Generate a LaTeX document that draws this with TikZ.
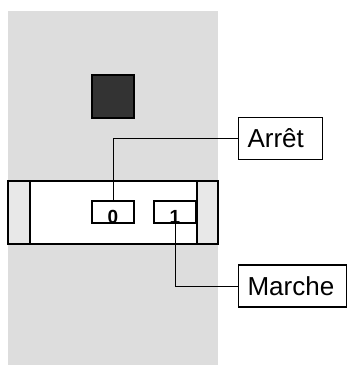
\documentclass[tikz,border=0pt]{standalone}
\usepackage{fontspec}
\setmainfont{Liberation Sans}
\definecolor{panel}{HTML}{DDDDDD}
\definecolor{strip}{HTML}{E8E8E8}
\definecolor{knob}{HTML}{333333}
\begin{document}
\begin{tikzpicture}[x=1pt,y=-1pt,
  outline/.style={draw=black,line width=1.1pt},
  labelbox/.style={outline,fill=white,rectangle,anchor=west,inner xsep=9pt,inner ysep=0pt,
     minimum height=42pt,align=left,font=\fontsize{26}{28}\selectfont},
  keybox/.style={outline,fill=white,rectangle,minimum width=42pt,minimum height=22pt,inner sep=0pt},
  digit/.style={anchor=base,inner sep=0pt,font=\fontsize{19}{20}\selectfont\bfseries},
  wire/.style={draw=black,line width=1pt}]
\useasboundingbox (0,0) rectangle (347,365);
\fill[white] (0,0) rectangle (347,365);
% panel
\fill[panel] (8,11) rectangle (218,365);
% dark square
\node[outline,fill=knob,minimum width=42pt,minimum height=43pt,inner sep=0pt] (sq) at (113,96.5) {};
% switch body
\draw[outline,fill=strip] (8,181) rectangle (218,244);
\draw[outline,fill=white] (30,181) rectangle (197,244);
% keys
\node[keybox,label={[digit]south:0}] (zero) at (113,212) {};
\node[keybox,label={[digit]south:1}] (one) at (175,212) {};
% labels
\node[labelbox,text width=66pt] (arret) at (238,138.5) {Arrêt};
\node[labelbox,text width=90pt] (marche) at (238,286) {Marche};
% connectors
\draw[wire] (arret.west) -| (zero.north);
\draw[wire] ([xshift=0.7pt]one.center) |- (marche.west);
\end{tikzpicture}
\end{document}
